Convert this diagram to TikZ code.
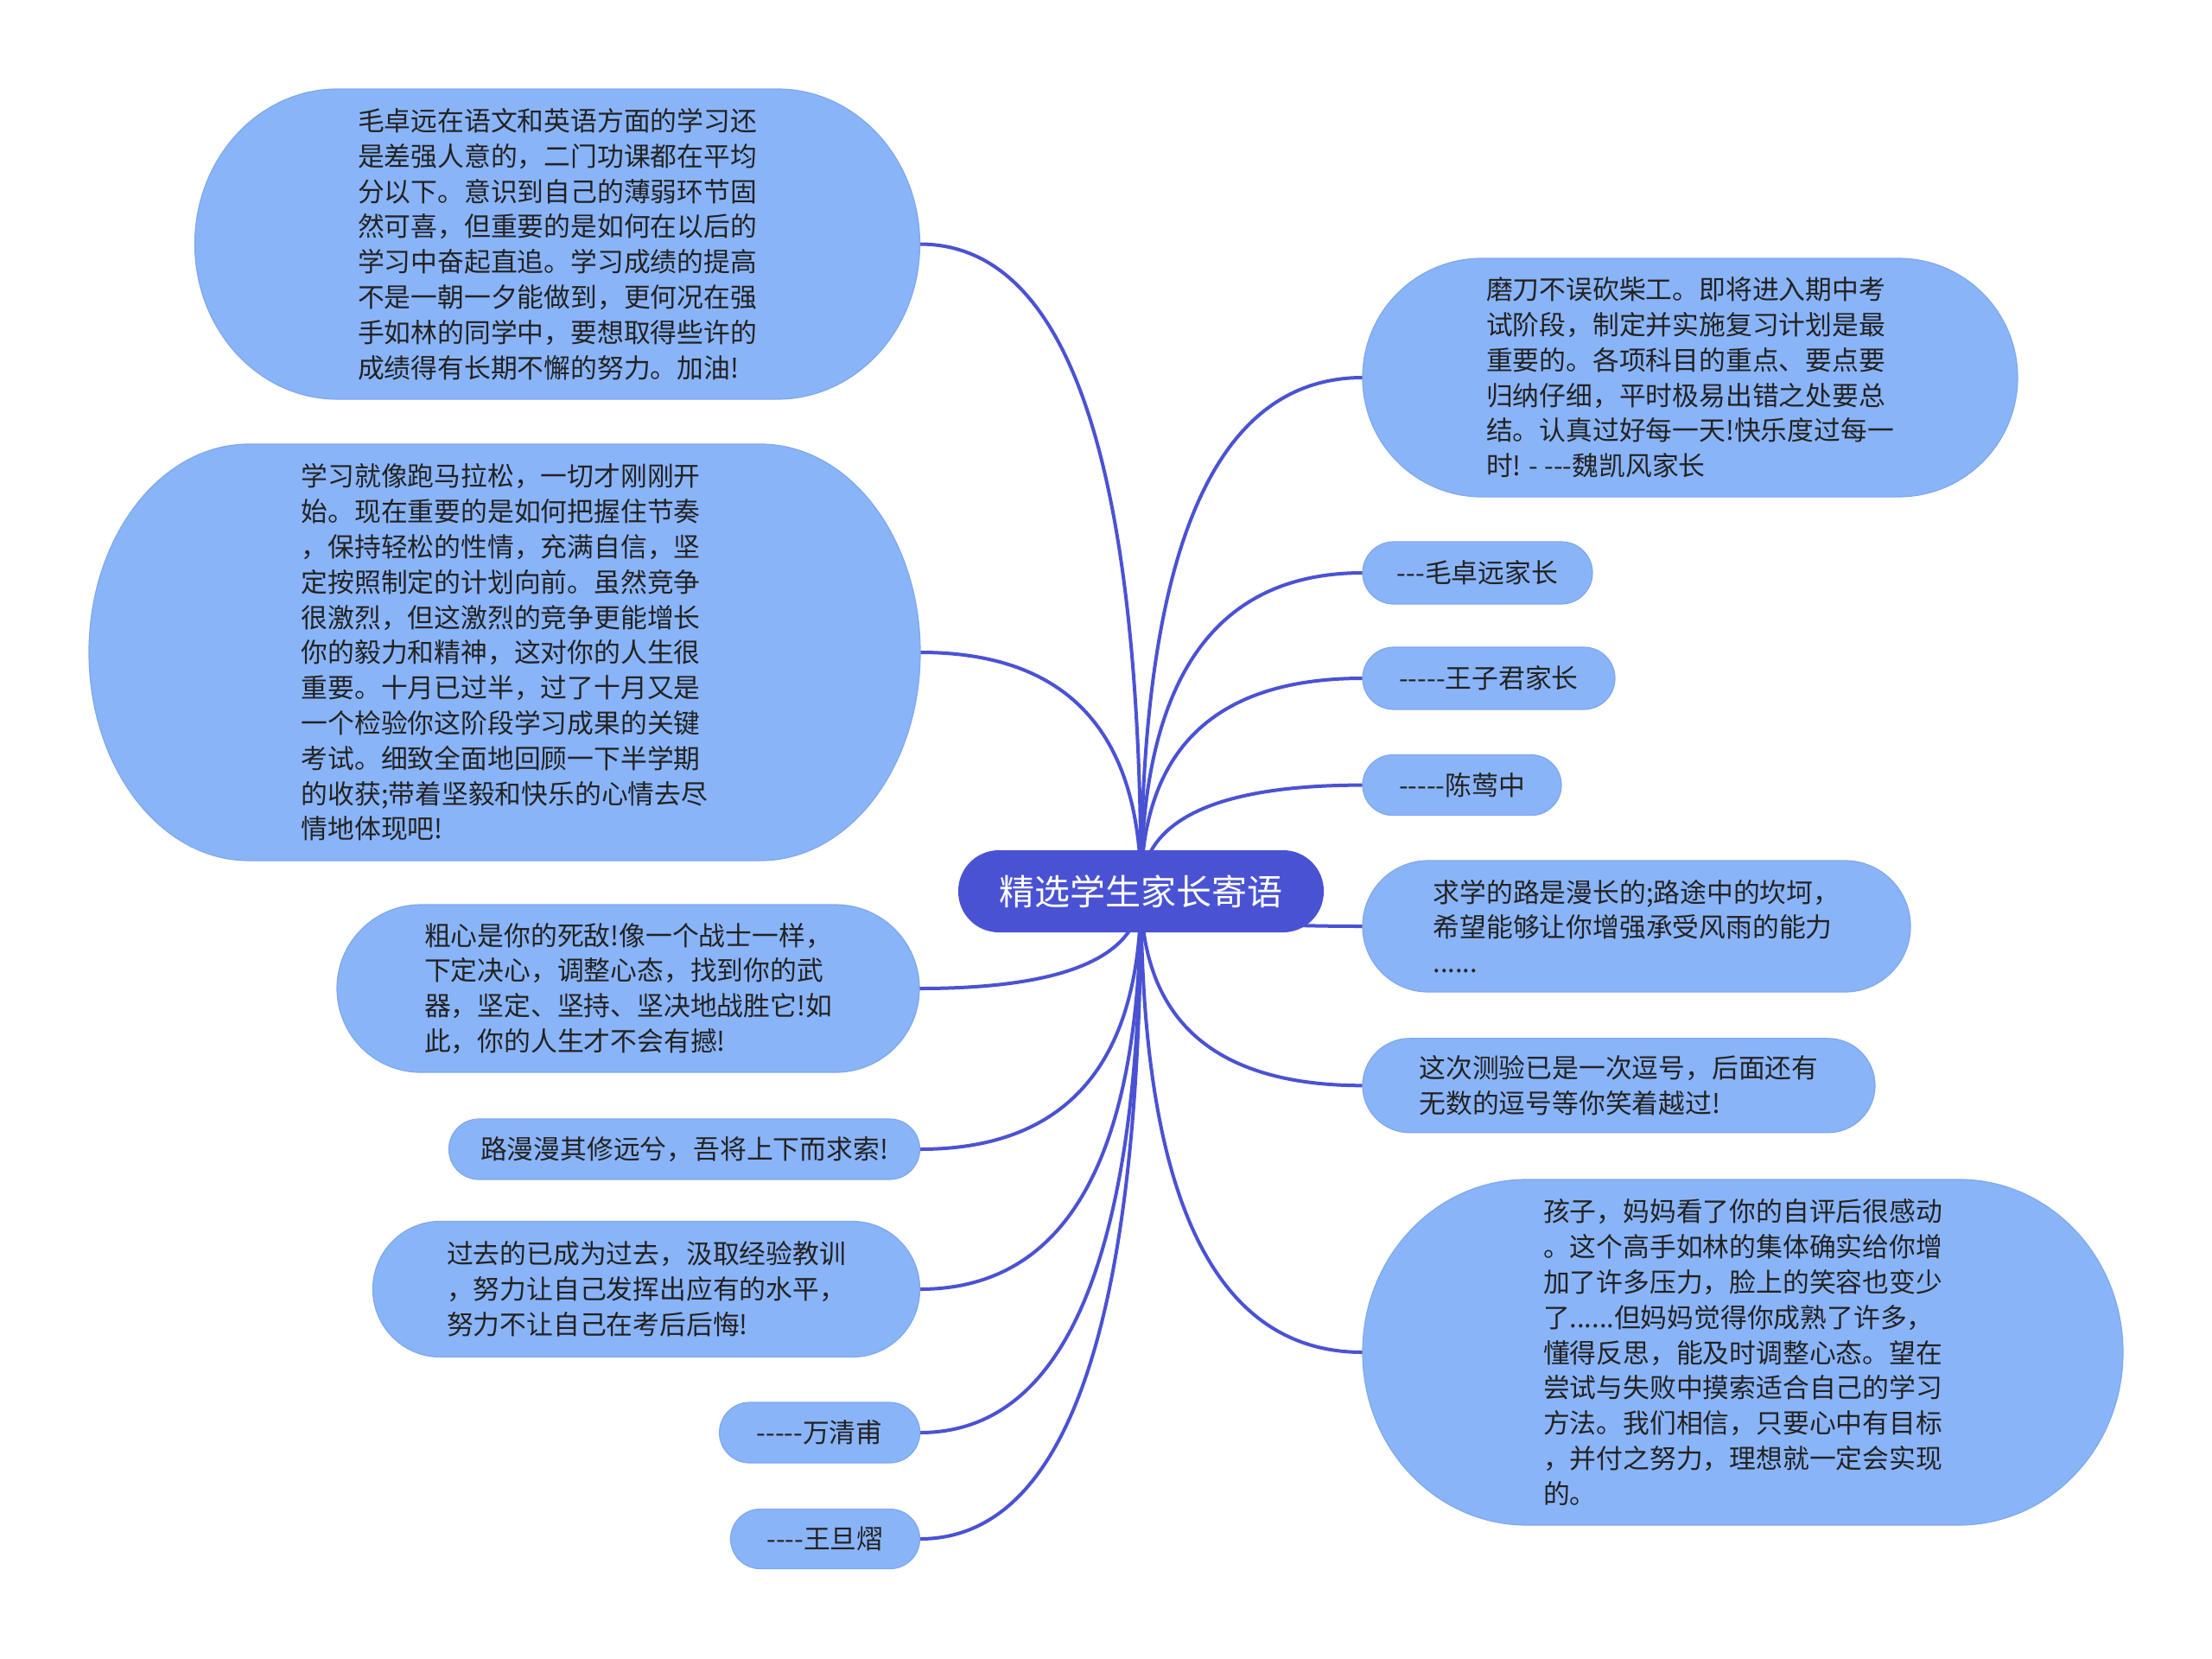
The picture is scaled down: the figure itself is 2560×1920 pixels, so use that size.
\documentclass[tikz,border=0pt]{standalone}
\usepackage{fontspec}
\usetikzlibrary{calc}
\newfontfamily\cjk{Noto Sans CJK SC}
\definecolor{pillc}{HTML}{8AB4F8}
\definecolor{pilledge}{HTML}{7EA8F0}
\definecolor{mainc}{HTML}{4A52D4}
\definecolor{txtc}{HTML}{222222}
\pgfdeclarelayer{bg}
\pgfdeclarelayer{mid}
\pgfsetlayers{bg,mid,main}
\def\hy{-\kern0pt\relax}
\newcommand\pill[3]{\filldraw[pillshape] ([xshift=#2]#1.north west) -- ([xshift=-#2]#1.north east) arc[start angle=90,end angle=0,x radius=#2,y radius=#3] -- ([yshift=#3]#1.south east) arc[start angle=0,end angle=-90,x radius=#2,y radius=#3] -- ([xshift=#2]#1.south west) arc[start angle=270,end angle=180,x radius=#2,y radius=#3] -- ([yshift=-#3]#1.north west) arc[start angle=180,end angle=90,x radius=#2,y radius=#3] -- cycle;}
\newcommand\link[1]{\draw[conn] (C.center) .. controls ($(C.center)!0.667!(C.center |- #1)$) and ($(#1)!0.667!(C.center |- #1)$) .. (#1);}
\tikzset{
  leaf/.style={inner sep=0pt, outer sep=0pt, align=left, text=txtc, font=\cjk\fontsize{30.8}{40.8}\selectfont},
  rootnode/.style={inner sep=0pt, outer sep=0pt, fill=mainc, text=white, rounded corners=47pt, minimum width=423pt, minimum height=95pt, font=\cjk\fontsize{41}{50}\selectfont},
  pillshape/.style={fill=pillc, draw=pilledge, line width=1.2pt},
  conn/.style={draw=mainc, line width=4pt},
}
\begin{document}
\begin{tikzpicture}[x=1pt,y=1pt]
\useasboundingbox (0,0) rectangle (2560,-1920);
\begin{pgfonlayer}{bg}
\fill[white] (0,0) rectangle (2560,-1920);
\end{pgfonlayer}

\node[rootnode] (C) at (1320.5,-1031.5) {精选学生家长寄语};

% left side
\node[leaf, minimum width=839pt, minimum height=359pt] (L1) at (645,-282.5) {毛卓远在语文和英语方面的学习还\\是差强人意的，二门功课都在平均\\分以下。意识到自己的薄弱环节固\\然可喜，但重要的是如何在以后的\\学习中奋起直追。学习成绩的提高\\不是一朝一夕能做到，更何况在强\\手如林的同学中，要想取得些许的\\成绩得有长期不懈的努力。加油!};
\node[leaf, minimum width=962pt, minimum height=482pt] (L2) at (584,-755) {学习就像跑马拉松，一切才刚刚开\\始。现在重要的是如何把握住节奏\\，保持轻松的性情，充满自信，坚\\定按照制定的计划向前。虽然竞争\\很激烈，但这激烈的竞争更能增长\\你的毅力和精神，这对你的人生很\\重要。十月已过半，过了十月又是\\一个检验你这阶段学习成果的关键\\考试。细致全面地回顾一下半学期\\的收获;带着坚毅和快乐的心情去尽\\情地体现吧!};
\node[leaf, minimum width=674pt, minimum height=194pt] (L3) at (727,-1144) {粗心是你的死敌!像一个战士一样，\\下定决心，调整心态，找到你的武\\器，坚定、坚持、坚决地战胜它!如\\此，你的人生才不会有撼!};
\node[leaf, minimum width=545pt, minimum height=70pt] (L4) at (792,-1330) {路漫漫其修远兮，吾将上下而求索!};
\node[leaf, minimum width=633pt, minimum height=157pt] (L5) at (748,-1492) {过去的已成为过去，汲取经验教训\\，努力让自己发挥出应有的水平，\\努力不让自己在考后后悔!};
\node[leaf, minimum width=232pt, minimum height=70pt] (L6) at (948.6,-1658) {\hy\hy\hy\hy\hy 万清甫};
\node[leaf, minimum width=219pt, minimum height=69pt] (L7) at (955,-1781) {\hy\hy\hy\hy 王旦熠};

% right side
\node[leaf, minimum width=758pt, minimum height=276pt] (R1) at (1956,-437) {磨刀不误砍柴工。即将进入期中考\\试阶段，制定并实施复习计划是最\\重要的。各项科目的重点、要点要\\归纳仔细，平时极易出错之处要总\\结。认真过好每一天!快乐度过每一\\时! \hy{} \hy\hy\hy 魏凯风家长};
\node[leaf, minimum width=266pt, minimum height=72pt] (R2) at (1710,-663) {\hy\hy\hy 毛卓远家长};
\node[leaf, minimum width=292pt, minimum height=72pt] (R3) at (1723,-785) {\hy\hy\hy\hy\hy 王子君家长};
\node[leaf, minimum width=230pt, minimum height=70pt] (R4) at (1692,-908.6) {\hy\hy\hy\hy\hy 陈莺中};
\node[leaf, minimum width=634pt, minimum height=152pt] (R5) at (1894,-1072) {求学的路是漫长的;路途中的坎坷，\\希望能够让你增强承受风雨的能力\\......};
\node[leaf, minimum width=593pt, minimum height=109pt] (R6) at (1873.5,-1256.3) {这次测验已是一次逗号，后面还有\\无数的逗号等你笑着越过!};
\node[leaf, minimum width=880pt, minimum height=400pt] (R7) at (2017,-1565) {孩子，妈妈看了你的自评后很感动\\。这个高手如林的集体确实给你增\\加了许多压力，脸上的笑容也变少\\了......但妈妈觉得你成熟了许多，\\懂得反思，能及时调整心态。望在\\尝试与失败中摸索适合自己的学习\\方法。我们相信，只要心中有目标\\，并付之努力，理想就一定会实现\\的。};

\begin{pgfonlayer}{mid}
\pill{L1}{165pt}{179.5pt}
\pill{L2}{185pt}{241pt}
\pill{L3}{97pt}{97pt}
\pill{L4}{35pt}{35pt}
\pill{L5}{78pt}{78.5pt}
\pill{L6}{35pt}{35pt}
\pill{L7}{34.5pt}{34.5pt}
\pill{R1}{138pt}{138pt}
\pill{R2}{36pt}{36pt}
\pill{R3}{36pt}{36pt}
\pill{R4}{35pt}{35pt}
\pill{R5}{76pt}{76pt}
\pill{R6}{54.5pt}{54.5pt}
\pill{R7}{190pt}{200pt}
\end{pgfonlayer}

\begin{pgfonlayer}{bg}
\link{L1.east}
\link{L2.east}
\link{L3.east}
\link{L4.east}
\link{L5.east}
\link{L6.east}
\link{L7.east}
\link{R1.west}
\link{R2.west}
\link{R3.west}
\link{R4.west}
\link{R5.west}
\link{R6.west}
\link{R7.west}
\end{pgfonlayer}
\end{tikzpicture}
\end{document}
